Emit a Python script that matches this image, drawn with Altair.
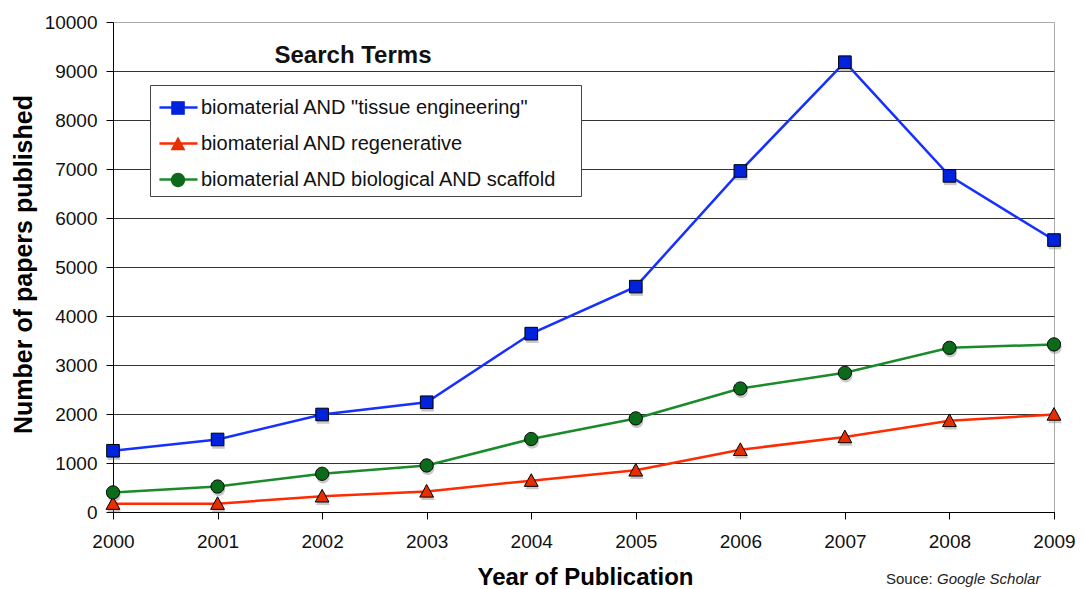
import altair as alt
import pandas as pd

years = [2000, 2001, 2002, 2003, 2004, 2005, 2006, 2007, 2008, 2009]
series_names = [
    'biomaterial AND "tissue engineering"',
    'biomaterial AND regenerative',
    'biomaterial AND biological AND scaffold',
]
tissue_engineering = [1250, 1480, 1990, 2240, 3640, 4600, 6960, 9180, 6860, 5550]
regenerative = [170, 170, 320, 420, 640, 850, 1270, 1530, 1860, 1990]
scaffold = [400, 520, 780, 950, 1490, 1910, 2520, 2840, 3350, 3420]

line_colors = ["#1530ff", "#ff2a00", "#1a8a2a"]
marker_fills = ["#0022dd", "#e62e00", "#0b6b1b"]
marker_paths = [
    "M-0.42,-0.42H0.42V0.42H-0.42Z",
    "M0,-0.46L0.46,0.38L-0.46,0.38Z",
    "M-0.44,0A0.44,0.44,0,1,1,0.44,0A0.44,0.44,0,1,1,-0.44,0Z",
]

rows = []
for name, vals in zip(series_names, [tissue_engineering, regenerative, scaffold]):
    for y, v in zip(years, vals):
        rows.append({"year": y, "count": v, "series": name})
df = pd.DataFrame(rows)

FONT = "Liberation Sans"
# non-breaking spaces kept from trimming by a trailing zero-width space (widens the legend box)
PAD = "\u00a0\u00a0\u00a0\u200b"
ZW = "\u200b"

x_enc = alt.X(
    "year:Q",
    scale=alt.Scale(domain=[2000, 2009], nice=False, zero=False),
    axis=alt.Axis(
        values=years, format="d", title="Year of Publication",
        grid=False, domainColor="black", tickColor="black", tickSize=7,
        labelFontSize=19, labelColor="#111", labelPadding=13, labelFont=FONT,
        titleFontSize=24, titleFont=FONT, titleFontWeight="bold", titleColor="#000",
        titleX=472, titleY=72, titleBaseline="alphabetic", labelFlush=False,
    ),
)
y_enc = alt.Y(
    "count:Q",
    scale=alt.Scale(domain=[0, 10000], nice=False),
    axis=alt.Axis(
        values=list(range(0, 10001, 1000)), format="d",
        title="Number of papers published",
        grid=True,
        gridColor=alt.condition("datum.value === 10000", alt.value("#aaaaaa"), alt.value("#333333")),
        gridWidth=1, domainColor="black", tickColor="black", tickSize=7,
        labelFontSize=19, labelColor="#111", labelPadding=9, labelFont=FONT,
        titleFontSize=25, titleFont=FONT, titleFontWeight="bold", titleColor="#000",
        titleAngle=270, titleX=-82, titleY=242, titleAlign="center",
        titleBaseline="alphabetic",
    ),
)

legend_common = dict(
    orient="none", legendX=37, legendY=63, title=None,
    padding=6, rowPadding=9, labelLimit=600,
    labelFontSize=20, labelFont=FONT,
)

lines = alt.Chart(df).mark_line(strokeWidth=2.5).encode(
    x=x_enc,
    y=y_enc,
    color=alt.Color(
        "series:N",
        scale=alt.Scale(domain=series_names, range=line_colors),
        sort=series_names,
        legend=alt.Legend(
            symbolType="M-1.27,0H1.27", symbolStrokeWidth=2.5, symbolSize=900,
            symbolOffset=6,
            fillColor="white", strokeColor="#444", labelColor="#111",
            labelExpr="datum.label + '" + PAD + "'", labelOffset=6,
            zindex=1, **legend_common,
        ),
    ),
)

shadow_layers = []
for name, path in zip(series_names, marker_paths):
    shadow_layers.append(
        alt.Chart(df).transform_filter(alt.datum.series == name)
        .mark_point(filled=True, size=900, opacity=0.4, color="#777", shape=path)
        .encode(x="year:Q", y="count:Q", xOffset=alt.value(1), yOffset=alt.value(3))
    )

point_legend = alt.Legend(labelColor="transparent", labelExpr="'" + ZW + "'",
                          symbolStrokeColor="black",
                          symbolStrokeWidth=1, symbolSize=1050, symbolOffset=5,
                          zindex=2, labelOffset=6, **legend_common)

points = alt.Chart(df).mark_point(filled=True, size=900, stroke="black", strokeWidth=1, opacity=1).encode(
    x="year:Q",
    y="count:Q",
    fill=alt.Fill(
        "series:N",
        scale=alt.Scale(domain=series_names, range=marker_fills),
        sort=series_names,
        legend=point_legend,
    ),
    shape=alt.Shape(
        "series:N",
        scale=alt.Scale(domain=series_names, range=marker_paths),
        sort=series_names,
        legend=point_legend,
    ),
)

ann = pd.DataFrame({"t": ["Search Terms"]})
search_title = alt.Chart(ann).mark_text(
    font=FONT, fontSize=24, fontWeight="bold", color="#111", align="center", baseline="alphabetic"
).encode(text="t:N", x=alt.value(240), y=alt.value(41))

src1 = alt.Chart(pd.DataFrame({"t": ["Souce:"]})).mark_text(
    font=FONT, fontSize=15, color="#222", align="left", baseline="alphabetic"
).encode(text="t:N", x=alt.value(773), y=alt.value(562))
src2 = alt.Chart(pd.DataFrame({"t": ["Google Scholar"]})).mark_text(
    font=FONT, fontSize=15, fontStyle="italic", color="#222", align="left", baseline="alphabetic"
).encode(text="t:N", x=alt.value(824), y=alt.value(562))

chart = alt.layer(lines, *shadow_layers, points, search_title, src1, src2).resolve_scale(
    color="independent", fill="independent", shape="independent"
).properties(
    width=941, height=490,
    background="white",
    autosize=alt.AutoSizeParams(type="none"),
    padding={"left": 105, "top": 14, "right": 21, "bottom": 77},
).configure_view(stroke="#aaaaaa", strokeWidth=1)

chart.save("out.html", embed_options={"renderer": "svg", "actions": False})
